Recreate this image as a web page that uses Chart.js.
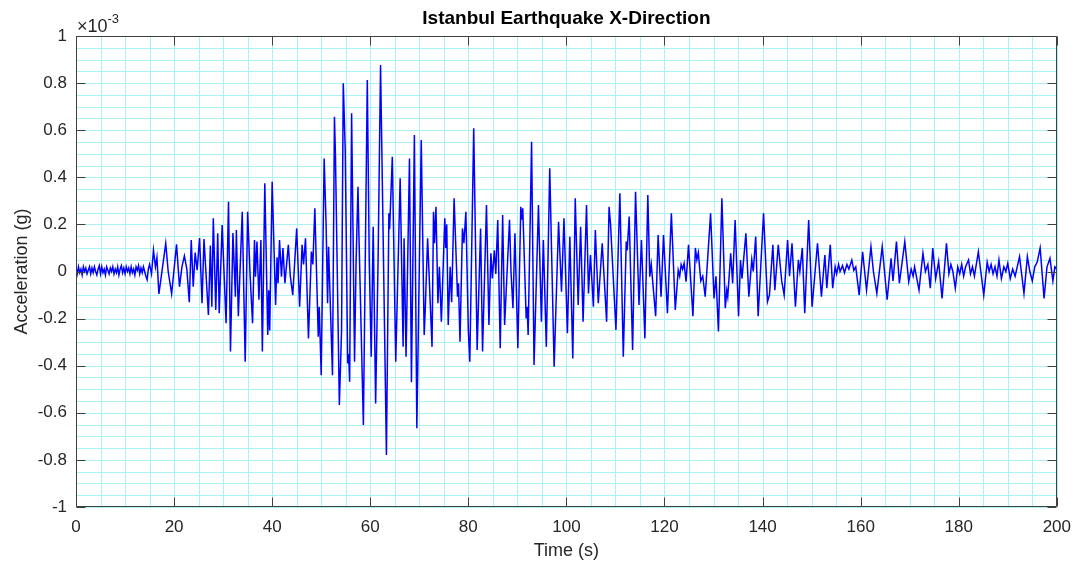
<!DOCTYPE html>
<html>
<head>
<meta charset="utf-8">
<title>Istanbul Earthquake X-Direction</title>
<script src="https://cdn.jsdelivr.net/npm/chart.js@4.4.1/dist/chart.umd.min.js"></script>
<style>
  html, body { margin: 0; padding: 0; background: #fff; }
  #wrap { width: 1081px; height: 570px; }
</style>
</head>
<body>
<div id="wrap"><canvas id="quake" width="1081" height="570"></canvas></div>
<script>
// Acceleration record, X direction. Accelerations are in units of 1e-3 g,
// times in seconds. Rows of ten keep time and value lists lined up.

// quiet part before the first arrivals
const preEventTime = [
  0, 0.25, 0.5, 0.75, 1, 1.25, 1.5, 1.75, 2, 2.25,
  2.5, 2.75, 3, 3.25, 3.5, 3.75, 4, 4.25, 4.5, 4.75,
  5, 5.25, 5.5, 5.75, 6, 6.25, 6.5, 6.75, 7, 7.25,
  7.5, 7.75, 8, 8.25, 8.5, 8.75, 9, 9.25, 9.5, 9.75,
  10, 10.25, 10.5, 10.75, 11, 11.25, 11.5, 11.75, 12, 12.25,
  12.5, 12.75, 13, 13.25, 13.5, 13.75, 14, 14.25, 14.5, 14.75,
  15
];
const preEventAccel = [
  0.015, -0.01, 0.02, -0.005, 0.01, -0.015, 0.02, 0, 0.015, -0.01,
  0.005, 0.02, -0.01, 0.015, -0.005, 0.02, 0, -0.015, 0.01, 0.025,
  -0.01, 0.02, -0.005, 0.01, -0.015, 0.02, 0.005, -0.01, 0.015, 0,
  0.02, -0.01, 0.01, -0.005, 0.02, -0.015, 0.01, 0.025, -0.005, 0.015,
  -0.01, 0.02, 0, 0.015, -0.01, 0.02, -0.005, 0.01, -0.015, 0.02,
  0.005, 0.025, -0.01, 0.015, -0.005, 0.02, 0, -0.02, -0.035, 0.01,
  0.03
];

// strong shaking
const strongTime = [
  15.4, 15.8, 16.2, 16.5, 16.9, 17.4, 18.3, 18.8, 19.5, 20.5,
  21.1, 21.6, 22.1, 22.6, 23.1, 23.5, 23.9, 24.3, 24.7, 25.2,
  25.7, 26.1, 27.0, 27.4, 27.7, 28.0, 28.5, 28.9, 29.2, 29.8,
  30.6, 31.1, 31.5, 32.0, 32.5, 32.7, 33.1, 33.9, 34.5, 35.0,
  35.5, 36.0, 36.4, 36.6, 36.9, 37.3, 37.7, 38.0, 38.5, 39.1,
  39.3, 39.5, 40.0, 40.7, 41.0, 41.2, 41.5, 41.9, 42.2, 42.6,
  43.3, 43.7, 44.2, 45.0, 45.6, 46.1, 46.4, 46.8, 47.4, 48.0,
  48.3, 48.7, 49.4, 49.6, 50.0, 50.6, 51.0, 51.3, 51.5, 52.3,
  52.7, 52.9, 53.7, 54.15, 54.5, 54.9, 55.4, 55.6, 55.8, 56.2,
  56.8, 57.1, 57.5, 57.7, 58.6, 59.4, 59.8, 60.2, 60.6, 61.1,
  61.6, 62.1, 62.9, 63.3, 63.8, 63.95, 64.5, 65.2, 66.1, 66.7,
  66.9, 67.3, 68.0, 68.4, 69.0, 69.5, 70.4, 71.0, 71.2, 71.7,
  72.6, 72.9, 73.1, 73.4, 73.8, 74.1, 74.5, 75.2, 75.4, 75.6,
  75.9, 76.3, 76.6, 77.1, 77.8, 78.0, 78.3, 78.8, 79.1, 79.5,
  80.0, 80.3, 81.1, 81.8, 82.5, 82.9, 83.7, 84.2, 84.6, 84.9,
  85.3, 85.6, 86.0, 86.5, 87.0, 87.4, 88.4, 88.7, 89.1, 89.5,
  90.1, 90.7, 90.9, 91.1, 91.8, 92.0, 92.2, 92.9, 93.4, 94.3,
  94.9, 95.3, 95.9, 96.6, 97.5, 98.4, 99.0, 99.5, 100.2, 100.7,
  101.3, 101.8, 102.4, 102.9, 103.4, 104.1, 104.5, 104.9, 105.5, 105.9,
  106.5, 107.3, 108.2, 108.7, 109.0, 110.1, 110.9, 111.6, 112.2, 112.4,
  112.8, 113.5, 114.1, 114.8, 115.3, 116.0, 116.6, 117.0, 117.3, 118.2,
  118.7, 119.3, 119.8, 120.6, 121.4, 122.2, 122.8, 123.1, 123.4, 123.7,
  124.0, 124.4, 124.9, 125.8, 126.3, 126.6, 126.9, 127.4, 127.8, 128.3
];
const strongAccel = [
  -0.01, 0.09, 0.02, 0.06, -0.095, -0.02, 0.12, 0, -0.095, 0.115,
  -0.065, 0.02, 0.066, 0.01, -0.13, 0.134, -0.065, 0.08, 0.006, 0.142,
  -0.135, 0.138, -0.185, 0.11, -0.15, 0.226, -0.163, 0.162, -0.177, 0.197,
  -0.22, 0.296, -0.34, 0.163, -0.107, 0.176, -0.19, 0.254, -0.383, 0.254,
  -0.015, -0.22, 0.134, -0.022, 0.127, -0.12, 0.134, -0.34, 0.375, -0.27,
  -0.08, -0.25, 0.381, -0.142, 0.06, -0.05, 0.134, -0.022, 0.1, -0.05,
  0.113, -0.02, -0.1, 0.183, -0.15, 0.113, 0.03, 0.141, -0.284, 0.085,
  0.03, 0.268, -0.277, -0.15, -0.44, 0.48, 0.2, -0.135, 0.105, -0.44,
  0.657, 0.5, -0.567, -0.25, 0.799, 0.516, -0.39, -0.35, -0.468, 0.672,
  -0.383, 0.03, 0.36, 0.15, -0.652, 0.813, 0.04, -0.362, 0.19, -0.56,
  0.05, 0.877, -0.22, -0.779, 0.247, 0.18, 0.487, -0.383, 0.396, -0.32,
  0.141, -0.362, 0.48, -0.47, 0.58, -0.666, 0.558, -0.27, -0.17, 0.141,
  -0.32, 0.254, 0.12, 0.275, -0.135, 0.02, -0.213, 0.226, 0.1, 0.2,
  -0.227, 0.02, -0.13, 0.311, -0.107, -0.05, -0.298, 0.183, 0.12, 0.254,
  -0.25, -0.383, 0.608, -0.333, 0.183, -0.34, 0.282, -0.227, 0.077, -0.03,
  0.09, -0.01, 0.219, -0.326, 0.24, -0.227, 0.22, 0, -0.156, 0.162,
  -0.326, 0.275, 0.22, 0.268, -0.199, -0.15, -0.27, 0.551, -0.397, 0.282,
  -0.213, 0.134, -0.32, 0.438, -0.404, 0.211, -0.086, 0.226, -0.262, 0.148,
  -0.369, 0.311, -0.142, 0.19, -0.213, 0.282, -0.093, 0.07, -0.15, 0.176,
  -0.135, 0.12, -0.213, 0.275, 0.2, -0.248, 0.332, -0.362, 0.127, 0.09,
  0.233, -0.333, 0.339, -0.142, 0.134, -0.284, 0.325, -0.022, 0.03, -0.19,
  0.155, -0.107, 0.155, -0.177, 0.247, -0.163, 0.006, -0.02, 0.03, 0.01,
  0.035, -0.043, 0.113, -0.19, 0.1, 0.05, 0.08, -0.04, -0.02, -0.107
];

// decaying tail
const codaTime = [
  129.4, 130.1, 130.5, 131.0, 131.7, 132.4, 132.7, 132.9, 133.5, 133.9,
  134.4, 135.1, 135.5, 135.8, 136.6, 137.2, 137.8, 138.1, 138.6, 139.1,
  140.2, 141.0, 141.4, 142.1, 142.5, 143.2, 143.9, 144.4, 145.1, 145.5,
  146.0, 146.7, 147.3, 147.6, 148.1, 148.6, 149.4, 150.1, 151.2, 152.0,
  152.7, 153.1, 153.8, 154.3, 154.8, 155.1, 155.5, 155.8, 156.3, 156.7,
  157.2, 157.6, 158.2, 158.6, 159.0, 159.7, 160.4, 161.2, 162.1, 162.6,
  163.3, 164.4, 165.4, 166.2, 166.6, 167.3, 167.9, 169.0, 169.8, 170.3,
  170.7, 171.0, 171.9, 172.7, 173.2, 173.7, 174.2, 174.7, 175.3, 175.9,
  176.6, 177.5, 178.0, 178.4, 178.8, 179.3, 179.8, 180.2, 180.6, 181.0,
  181.4, 182.0, 182.4, 182.8, 183.2, 184.0, 184.5, 185.1, 185.8, 186.2,
  186.6, 187.0, 187.4, 187.8, 188.2, 188.7, 189.2, 189.6, 190.0, 190.5,
  191.0, 191.5, 192.4, 193.3, 194.0, 194.5, 195.0, 195.5, 196.0, 196.6,
  197.4, 198.0, 198.6, 199.2, 199.6, 200.0
];
const codaAccel = [
  0.247, -0.114, -0.02, -0.255, 0.311, -0.156, -0.08, -0.107, 0.077, -0.05,
  0.219, -0.19, 0.049, -0.03, 0.162, -0.107, 0.05, 0, 0.148, -0.19,
  0.247, -0.128, -0.1, 0.113, -0.079, 0.113, -0.04, -0.1, 0.134, -0.02,
  0.12, -0.15, 0.05, 0, 0.1, -0.177, 0.219, -0.15, 0.12, -0.107,
  0.07, -0.071, 0.113, -0.071, 0.02, -0.01, 0.03, 0, 0.025, -0.005,
  0.03, 0.01, 0.049, 0.005, 0.02, -0.1, 0.084, -0.079, 0.105, 0,
  -0.093, 0.105, -0.12, 0.056, -0.04, 0.127, -0.05, 0.127, -0.043, 0.01,
  -0.02, 0.02, -0.079, 0.077, 0, 0.03, -0.071, 0.1, -0.03, 0.042,
  -0.114, 0.12, -0.01, 0.03, 0, -0.071, 0.02, -0.01, 0.03, -0.02,
  0.02, 0.049, -0.01, 0.02, -0.02, 0.084, 0, -0.1, 0.04, 0,
  0.03, -0.01, 0.02, -0.02, 0.049, -0.03, 0.02, 0, 0.035, -0.03,
  0.01, -0.02, 0.063, -0.093, 0.063, 0, -0.04, 0.02, 0.04, 0.1,
  -0.114, 0.02, 0.056, -0.04, 0.02, 0.01
];

const xMajorTicks = [0, 20, 40, 60, 80, 100, 120, 140, 160, 180, 200];
const yMajorTicks = [-1, -0.8, -0.6, -0.4, -0.2, 0, 0.2, 0.4, 0.6, 0.8, 1];
const xMinorStep = 5;     // s
const yMinorStep = 0.05;  // 1e-3 g

const FONT = '"Liberation Sans", Arial, Helvetica, sans-serif';
const TEXT = '#262626';
const GRID = 'rgb(170, 242, 248)';

const timeS = preEventTime.concat(strongTime, codaTime);
const accel = preEventAccel.concat(strongAccel, codaAccel);
const points = timeS.map((t, i) => ({ x: t, y: accel[i] }));

// minor + major grid, drawn under the trace
const minorGrid = {
  id: 'minorGrid',
  beforeDatasetsDraw(chart) {
    const { ctx, chartArea: a, scales: { x, y } } = chart;
    ctx.save();
    ctx.strokeStyle = GRID;
    ctx.lineWidth = 1;
    ctx.beginPath();
    for (let k = 0; k * xMinorStep <= x.max + 1e-9; k++) {
      const px = Math.round(x.getPixelForValue(k * xMinorStep)) + 0.5;
      ctx.moveTo(px, a.top); ctx.lineTo(px, a.bottom);
    }
    for (let k = 0; y.min + k * yMinorStep <= y.max + 1e-9; k++) {
      const py = Math.round(y.getPixelForValue(y.min + k * yMinorStep)) + 0.5;
      ctx.moveTo(a.left, py); ctx.lineTo(a.right, py);
    }
    ctx.stroke();
    ctx.restore();
  }
};

// axes box, inward tick marks, titles and the exponent label
const axesDecor = {
  id: 'axesDecor',
  beforeDraw(chart) {
    const ctx = chart.ctx;
    ctx.save();
    ctx.fillStyle = '#fff';
    ctx.fillRect(0, 0, chart.width, chart.height);
    ctx.restore();
  },
  afterDraw(chart) {
    const { ctx, chartArea: a, scales: { x, y } } = chart;
    const L = Math.round(a.left) + 0.5, R = Math.round(a.right) - 0.5;
    const T = Math.round(a.top) + 0.5, B = Math.round(a.bottom) - 0.5;
    const tick = 9;
    ctx.save();
    ctx.strokeStyle = '#404040';
    ctx.lineWidth = 1;
    ctx.beginPath();
    ctx.rect(L, T, R - L, B - T);
    xMajorTicks.forEach(v => {
      const px = Math.round(x.getPixelForValue(v)) + 0.5;
      ctx.moveTo(px, B); ctx.lineTo(px, B - tick);
      ctx.moveTo(px, T); ctx.lineTo(px, T + tick);
    });
    yMajorTicks.forEach(v => {
      const py = Math.round(y.getPixelForValue(v)) + 0.5;
      ctx.moveTo(L, py); ctx.lineTo(L + tick, py);
      ctx.moveTo(R, py); ctx.lineTo(R - tick, py);
    });
    ctx.stroke();

    const cx = (a.left + a.right) / 2;
    ctx.fillStyle = '#000';
    ctx.textAlign = 'center';
    ctx.textBaseline = 'middle';
    ctx.font = 'bold 19px ' + FONT;
    ctx.fillText('Istanbul Earthquake X-Direction', cx, 19);

    ctx.fillStyle = TEXT;
    ctx.font = '18px ' + FONT;
    ctx.fillText('Time (s)', cx, 551);

    ctx.save();
    ctx.translate(22, (a.top + a.bottom) / 2);
    ctx.rotate(-Math.PI / 2);
    ctx.fillText('Acceleration (g)', 0, 0);
    ctx.restore();

    ctx.textAlign = 'left';
    ctx.textBaseline = 'alphabetic';
    ctx.font = '18px ' + FONT;
    ctx.fillText('\u00d710', a.left + 1, 32);
    const w = ctx.measureText('\u00d710').width;
    ctx.font = '13px ' + FONT;
    ctx.fillText('-3', a.left + 1 + w, 23);
    ctx.restore();
  }
};

new Chart(document.getElementById('quake'), {
  type: 'line',
  data: {
    datasets: [{
      label: 'X-Direction',
      data: points,
      borderColor: '#0000ff',
      borderWidth: 1.5,
      pointRadius: 0,
      tension: 0,
      fill: false
    }]
  },
  options: {
    responsive: false,
    animation: false,
    events: [],
    layout: { padding: { top: 36, right: 19, left: 0, bottom: 0 } },
    plugins: {
      legend: { display: false },
      title: { display: false },
      tooltip: { enabled: false }
    },
    scales: {
      x: {
        type: 'linear',
        min: 0,
        max: 200,
        border: { display: false },
        grid: { display: false, drawTicks: false },
        afterBuildTicks: s => { s.ticks = xMajorTicks.map(v => ({ value: v })); },
        ticks: {
          autoSkip: false,
          maxRotation: 0,
          padding: 10,
          color: TEXT,
          font: { family: FONT, size: 17 },
          callback: v => String(Math.round(v))
        },
        afterFit: s => { s.height = 63; }
      },
      y: {
        type: 'linear',
        min: -1,
        max: 1,
        border: { display: false },
        grid: { display: false, drawTicks: false },
        afterBuildTicks: s => { s.ticks = yMajorTicks.map(v => ({ value: v })); },
        ticks: {
          autoSkip: false,
          padding: 9,
          color: TEXT,
          font: { family: FONT, size: 17 },
          callback: v => String(Math.round(v * 10) / 10)
        },
        afterFit: s => { s.width = 76; }
      }
    }
  },
  plugins: [minorGrid, axesDecor]
});
</script>
</body>
</html>
